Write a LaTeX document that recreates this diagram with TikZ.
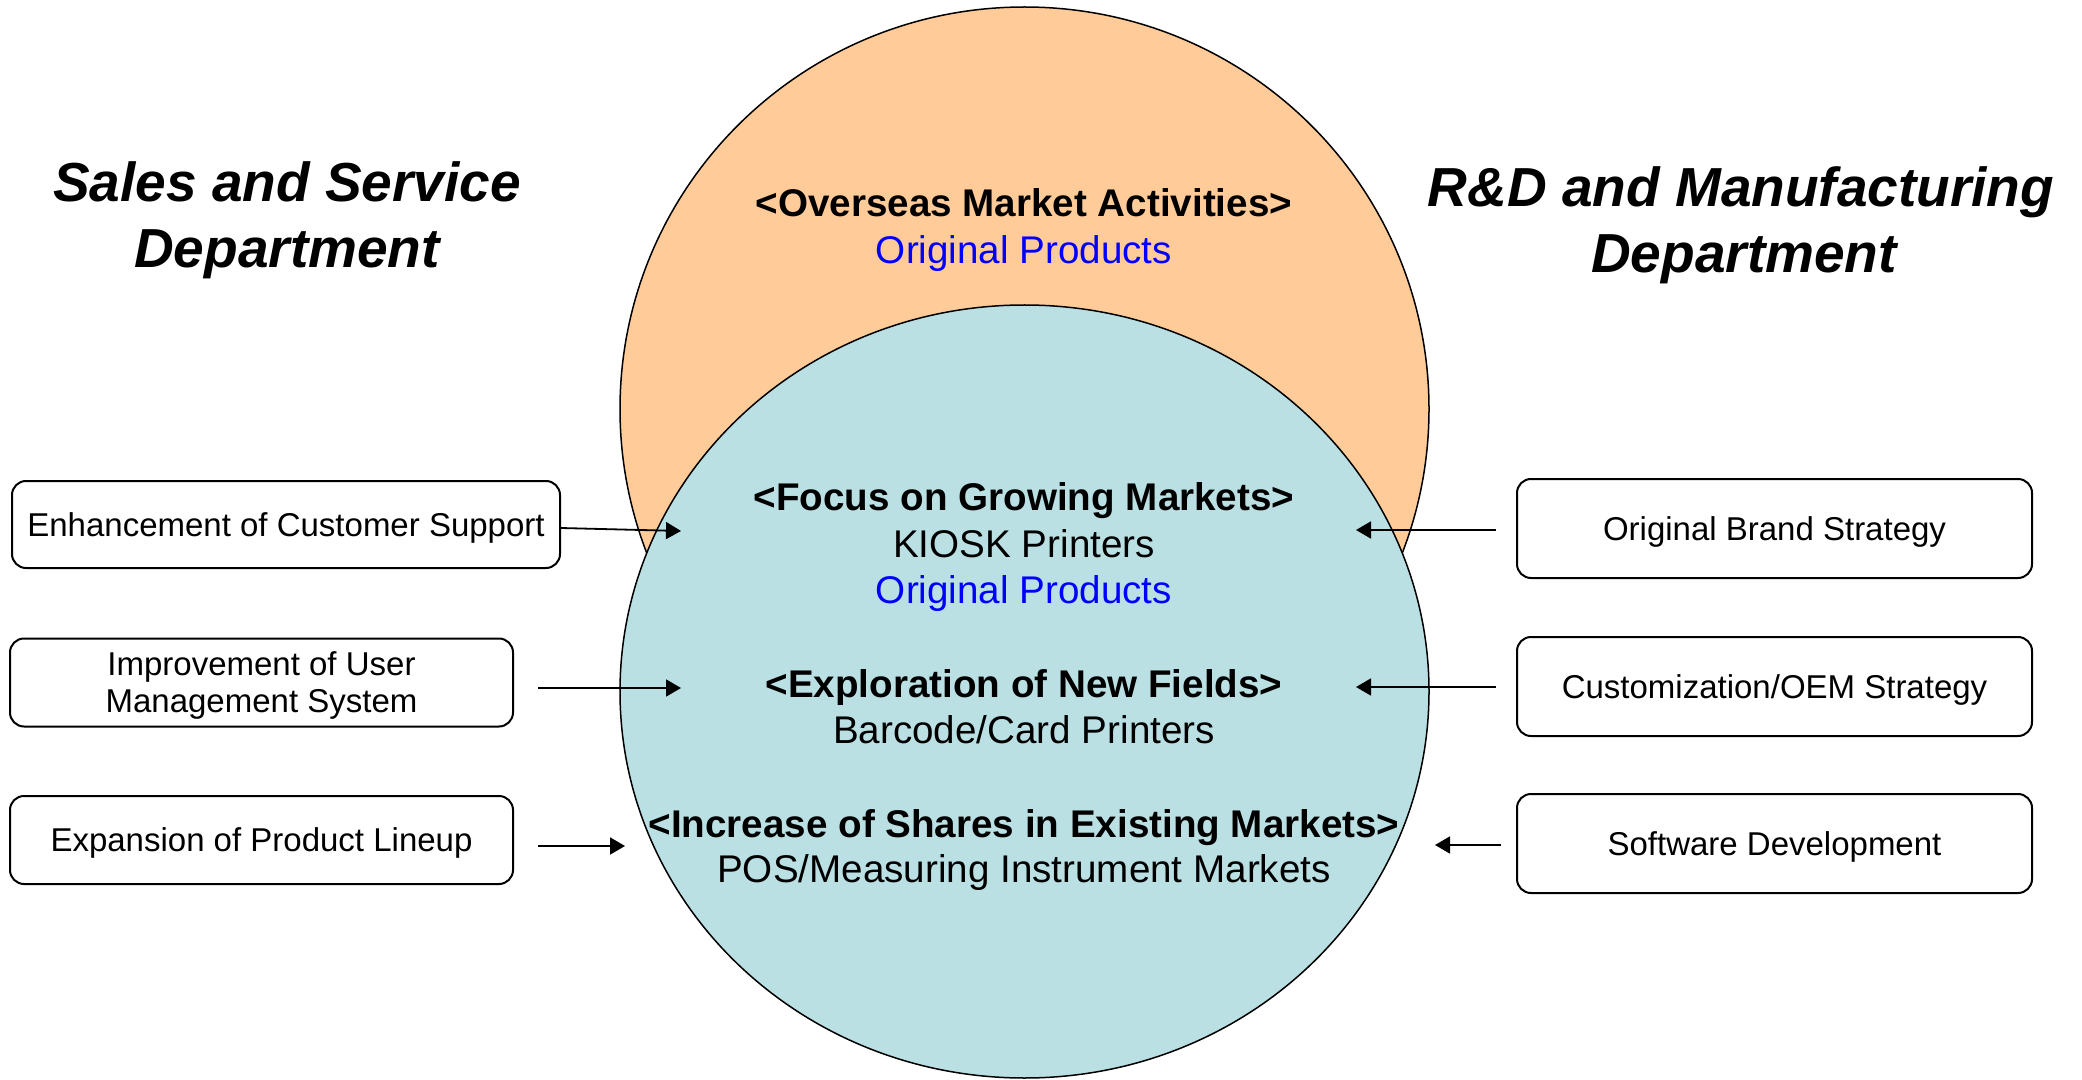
\documentclass[tikz,border=0pt]{standalone}
\usepackage{fontspec}
\setmainfont{Liberation Sans}
\usetikzlibrary{arrows.meta}
\definecolor{orangefill}{RGB}{255,204,153}
\definecolor{bluefill}{RGB}{187,224,227}
\definecolor{prodblue}{RGB}{0,0,255}
\begin{document}
\begin{tikzpicture}[x=0.5pt,y=-0.5pt,
  title/.style={font=\fontsize{27.5pt}{33pt}\selectfont\bfseries\itshape, anchor=base, inner sep=0pt},
  head/.style={font=\fontsize{19.3pt}{23.5pt}\selectfont\bfseries, anchor=base, inner sep=0pt},
  item/.style={font=\fontsize{19.3pt}{23.5pt}\selectfont, anchor=base, inner sep=0pt},
  prod/.style={item, text=prodblue},
  sbox/.style={draw, line width=1pt, rounded corners=7pt, inner sep=0pt, align=center,
    text depth=0pt, font=\fontsize{16.5pt}{18.5pt}\selectfont},
  onel/.style={text height=11.8pt},
  lbox/.style={sbox, minimum width=251.5pt, minimum height=44pt},
  rbox/.style={sbox, onel, minimum width=257.5pt, minimum height=49.5pt},
  arr/.style={line width=0.9pt, -{Triangle[length=7.5pt,width=8.5pt]}}]
\useasboundingbox (0,0) rectangle (2082,1080);
\fill[white] (0,0) rectangle (2082,1080);
% circles
\draw[fill=orangefill, line width=0.75pt] (1024.5,409) ellipse [x radius=202.25pt, y radius=201pt];
\draw[fill=bluefill, line width=0.75pt] (1024.5,691.5) ellipse [x radius=202.25pt, y radius=193.25pt];
% titles
\node[title] (s1) at (287,202) {Sales and Service};
\node[title] (s2) at (287,268) {Department};
\node[title] (r1) at (1741,207) {R\&D and Manufacturing};
\node[title] (r2) at (1744,273) {Department};
% circle texts
\node[head] (ov) at (1024,217) {<Overseas Market Activities>};
\node[prod] (ovp) at (1024,264) {Original Products};
\node[head] (fo) at (1024,510) {<Focus on Growing Markets>};
\node[item] (fok) at (1024,557) {KIOSK Printers};
\node[prod] (fop) at (1024,603) {Original Products};
\node[head] (ex) at (1024,697) {<Exploration of New Fields>};
\node[item] (exb) at (1024,743) {Barcode/Card Printers};
\node[head] (in) at (1024,837) {<Increase of Shares in Existing Markets>};
\node[item] (inp) at (1024,882) {POS/Measuring Instrument Markets};
% left boxes
\node[sbox, onel, minimum width=274pt, minimum height=43.5pt] (b1) at (286,524.5) {Enhancement of Customer Support};
\node[lbox] (b2) at (261.5,682.5) {Improvement of User\\Management System};
\node[lbox, onel] (b3) at (261.5,840) {Expansion of Product Lineup};
% right boxes
\node[rbox] (c1) at (1774.5,528.5) {Original Brand Strategy};
\node[rbox] (c2) at (1774.5,686.5) {Customization/OEM Strategy};
\node[rbox] (c3) at (1774.5,843.5) {Software Development};
% arrows
\coordinate (a1e) at (681,531);
\coordinate (a2s) at (538,688);
\coordinate (a2e) at (681,688);
\coordinate (a3s) at (538,846);
\coordinate (a3e) at (625,846);
\coordinate (c1s) at (1496,530);
\coordinate (c1e) at (1356,530);
\coordinate (c2s) at (1496,687);
\coordinate (c2e) at (1356,687);
\coordinate (c3s) at (1501,845);
\coordinate (c3e) at (1435,845);
\draw[arr] ([yshift=-1.75pt]b1.east) -- (a1e);
\draw[arr] (a2s) -- (a2e);
\draw[arr] (a3s) -- (a3e);
\draw[arr] (c1s) -- (c1e);
\draw[arr] (c2s) -- (c2e);
\draw[arr] (c3s) -- (c3e);
\end{tikzpicture}
\end{document}
